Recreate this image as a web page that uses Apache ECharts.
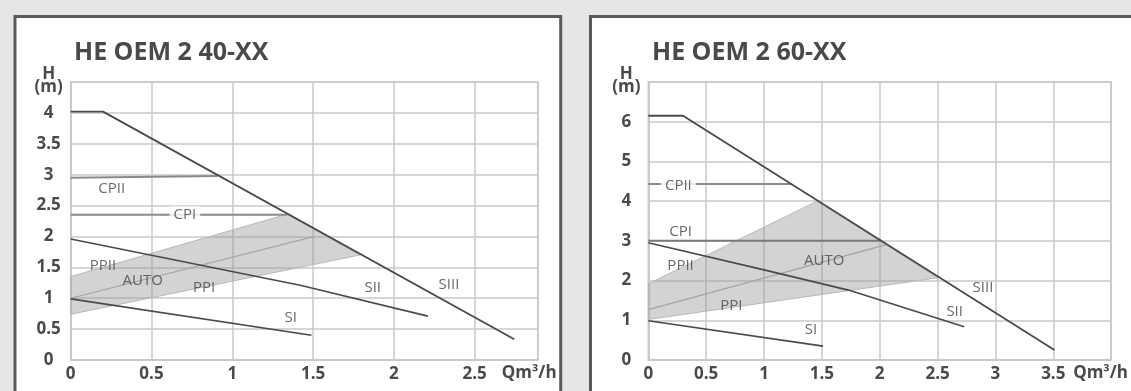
<!DOCTYPE html>
<html>
<head>
<meta charset="utf-8">
<script src="https://cdn.jsdelivr.net/npm/echarts@6/dist/echarts.min.js"></script>
<style>
html,body{margin:0;padding:0;background:#e6e6e6;}
#c{width:1131px;height:391px;}
</style>
</head>
<body>
<div id="c"></div>
<script>
// ---------- data (Q in m³/h, H in m) ----------
const titles = ['HE OEM 2 40-XX', 'HE OEM 2 60-XX'];

// Left chart: HE OEM 2 40-XX
const L_SIII = [[0, 4.02], [0.2, 4.02], [2.745, 0.335]];
const L_SII  = [[0, 1.96], [1.42, 1.21], [2.21, 0.71]];
const L_SI   = [[0, 0.99], [1.49, 0.40]];
const L_CPII = [[0, 2.95], [0.91, 2.98]];
const L_CPI  = [[0, 2.35], [1.34, 2.35]];
const L_AUTO = [[0, 1.0], [1.51, 2.0]];
const L_BAND = [[0, 1.35], [1.34, 2.36], [1.79, 1.70], [0, 0.74]];
const L_LABELS = [
  ['CPII', 0.254, 2.78], ['CPI', 0.707, 2.35], ['PPII', 0.20, 1.52],
  ['AUTO', 0.446, 1.283], ['PPI', 0.825, 1.176], ['SI', 1.361, 0.691],
  ['SII', 1.869, 1.176], ['SIII', 2.341, 1.225]
];

// Right chart: HE OEM 2 60-XX
const R_SIII = [[0, 6.15], [0.3, 6.15], [3.51, 0.25]];
const R_SII  = [[0, 2.95], [1.0, 2.27], [1.73, 1.76], [2.73, 0.84]];
const R_SI   = [[0, 0.99], [1.51, 0.35]];
const R_CPII = [[0, 4.43], [1.24, 4.43]];
const R_CPI  = [[0, 3.0], [2.01, 3.0]];
const R_AUTO = [[0, 1.27], [2.05, 2.9]];
const R_BAND = [[0, 1.92], [1.46, 4.0], [2.5, 2.07], [0, 1.02]];
const R_LABELS = [
  ['CPII', 0.26, 4.40], ['CPI', 0.279, 3.23], ['PPII', 0.279, 2.37],
  ['AUTO', 1.52, 2.49], ['PPI', 0.718, 1.36], ['SI', 1.406, 0.756],
  ['SII', 2.648, 1.217], ['SIII', 2.892, 1.83]
];
const boxedLabel = ['CPI', 'CPII']; // label that interrupts its line (left, right)

// axis extents / ticks
const L_X = {min: 0, max: 2.89, interval: 0.5};
const L_Y = {min: 0, max: 4.5, interval: 0.5};
const R_X = {min: 0, max: 4, interval: 0.5};
const R_Y = {min: 0, max: 7, interval: 1};
const xName = 'Qm³/h';
const yName = 'H\n(m)';

// ---------- styling ----------
const FONT = '"Open Sans", "DejaVu Sans", sans-serif';
const TXT = '#4a4a4a';
const GRIDC = '#c8c8c8';

function xAxis(idx, ext) {
  return {
    type: 'value', gridIndex: idx, min: ext.min, max: ext.max, interval: ext.interval,
    name: xName, nameLocation: 'end', nameGap: idx === 0 ? -36 : -38,
    nameTextStyle: {color: TXT, fontFamily: FONT, fontWeight: 'bold', fontSize: 17,
      align: 'left', verticalAlign: 'top', padding: [5, 0, 0, 0]},
    axisLine: {show: true, lineStyle: {color: GRIDC, width: 1.5}},
    axisTick: {show: false},
    axisLabel: {color: TXT, fontFamily: FONT, fontWeight: 'bold', fontSize: 17, margin: 6,
      showMaxLabel: false},
    splitLine: {show: true, lineStyle: {color: GRIDC, width: 1.5}}
  };
}
function yAxis(idx, ext) {
  return {
    type: 'value', gridIndex: idx, min: ext.min, max: ext.max, interval: ext.interval,
    name: yName, nameLocation: 'end', nameGap: 1,
    nameTextStyle: {color: TXT, fontFamily: FONT, fontWeight: 'bold', fontSize: 17,
      align: 'center', verticalAlign: 'middle', lineHeight: 13, padding: [0, 44, 0, 0]},
    axisLine: {show: true, lineStyle: {color: GRIDC, width: 1.5}},
    axisTick: {show: false},
    axisLabel: {color: TXT, fontFamily: FONT, fontWeight: 'bold', fontSize: 17, margin: 22,
      align: 'center', showMaxLabel: false},
    splitLine: {show: true, lineStyle: {color: GRIDC, width: 1.5}}
  };
}
function line(idx, data, color, width, z) {
  return {type: 'line', xAxisIndex: idx, yAxisIndex: idx, data: data, symbol: 'none',
    silent: true, z: z || 3, lineStyle: {color: color, width: width}};
}
function band(idx, pts) {
  return {
    type: 'custom', xAxisIndex: idx, yAxisIndex: idx, silent: true, z: 2,
    data: pts,
    renderItem: function (params, api) {
      if (params.dataIndex !== 0) return null;
      const p = pts.map(function (d) { return api.coord(d); });
      return {type: 'polygon', shape: {points: p},
        style: {fill: 'rgba(150,150,156,0.42)', stroke: '#b8b8b8', lineWidth: 1}};
    }
  };
}
function labels(idx, list, boxed) {
  return {
    type: 'scatter', xAxisIndex: idx, yAxisIndex: idx, symbolSize: 0, silent: true, z: 10,
    data: list.map(function (l) {
      const item = {name: l[0], value: [l[1], l[2]]};
      if (l[0] === boxed) item.label = {backgroundColor: '#fff', padding: [1, 4]};
      return item;
    }),
    label: {show: true, position: 'inside', formatter: '{b}', color: '#444',
      fontFamily: FONT, fontSize: 15}
  };
}
const DARK = '#4a4a4a', CPC = '#8a8a8a', AUTOC = '#a5a5a5';

const chart = echarts.init(document.getElementById('c'), null, {renderer: 'canvas'});
chart.setOption({
  backgroundColor: '#e6e6e6',
  animation: false,
  graphic: [
    {type: 'rect', z: -10, shape: {x: 15, y: 16.5, width: 545.7, height: 420},
      style: {fill: '#fff', stroke: '#5a5a5a', lineWidth: 3}},
    {type: 'rect', z: -10, shape: {x: 590.5, y: 16.5, width: 600, height: 420},
      style: {fill: '#fff', stroke: '#5a5a5a', lineWidth: 3}}
  ],
  title: [
    {text: titles[0], left: 69, top: 35,
      textStyle: {color: TXT, fontFamily: FONT, fontWeight: 'bold', fontSize: 25}},
    {text: titles[1], left: 647, top: 35,
      textStyle: {color: TXT, fontFamily: FONT, fontWeight: 'bold', fontSize: 25}}
  ],
  grid: [
    {left: 70.7, top: 82, right: 1131 - 537.7, bottom: 31, show: true,
      borderColor: GRIDC, borderWidth: 1.5},
    {left: 648.3, top: 82, right: 1131 - 1115.7, bottom: 31, show: true,
      borderColor: GRIDC, borderWidth: 1.5}
  ],
  xAxis: [xAxis(0, L_X), xAxis(1, R_X)],
  yAxis: [yAxis(0, L_Y), yAxis(1, R_Y)],
  series: [
    band(0, L_BAND),
    line(0, L_AUTO, AUTOC, 1.2),
    line(0, L_CPII, CPC, 2),
    line(0, L_CPI, CPC, 2),
    line(0, L_SI, DARK, 1.6),
    line(0, L_SII, DARK, 1.6),
    line(0, L_SIII, DARK, 1.8, 4),
    labels(0, L_LABELS, boxedLabel[0]),
    band(1, R_BAND),
    line(1, R_AUTO, AUTOC, 1.2),
    line(1, R_CPII, CPC, 2),
    line(1, R_CPI, '#7a7a7a', 2),
    line(1, R_SI, DARK, 1.6),
    line(1, R_SII, DARK, 1.6),
    line(1, R_SIII, DARK, 1.8, 4),
    labels(1, R_LABELS, boxedLabel[1])
  ]
});
</script>
</body>
</html>
